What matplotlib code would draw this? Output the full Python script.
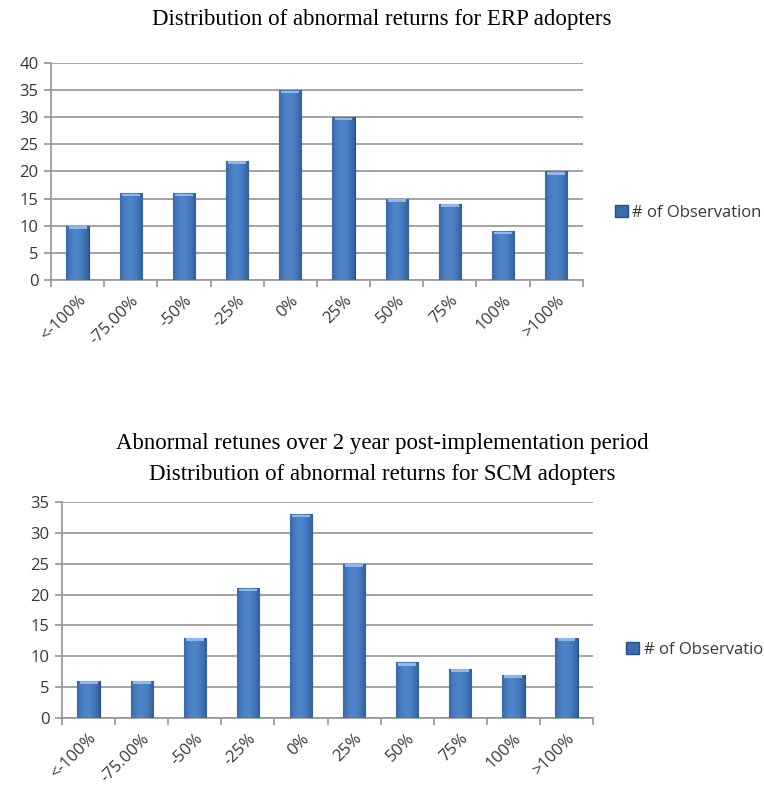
import numpy as np
import matplotlib
matplotlib.use("Agg")
import matplotlib.pyplot as plt
from matplotlib.patches import Patch

categories = ["<-100%", "-75.00%", "-50%", "-25%", "0%", "25%", "50%", "75%", "100%", ">100%"]
erp_counts = [10, 16, 16, 22, 35, 30, 15, 14, 9, 20]
scm_counts = [6, 6, 13, 21, 33, 25, 9, 8, 7, 13]

bar_color = "#3b6cae"
edge_color = "#264d84"
grid_color = "#9c9c9c"
text_color = "#383838"
label_font = "Open Sans"
title_font = "Liberation Serif"

fig = plt.figure(figsize=(7.64, 7.92), dpi=100)

# horizontal shading used inside every bar
shade = np.linspace(0, 1, 64)
shade = 1 - 0.55 * (2 * np.abs(shade - 0.45)) ** 1.6
grad = np.outer(np.ones(2), shade)
cmap = matplotlib.colors.LinearSegmentedColormap.from_list("bar", ["#1f4a86", "#4f86c9"])


def draw_panel(rect, values, ymax, legend_label, legend_xy):
    ax = fig.add_axes(rect)
    x = np.arange(len(categories))
    bars = ax.bar(x, values, width=0.42, color=bar_color, edgecolor=edge_color,
                  linewidth=0.8, zorder=3)
    for b in bars:
        x0, y0 = b.get_x(), b.get_y()
        w, h = b.get_width(), b.get_height()
        im = ax.imshow(grad, cmap=cmap, vmin=0, vmax=1, aspect="auto",
                       extent=(x0, x0 + w, y0, y0 + h), zorder=3.5)
        im.set_clip_path(b)
        # light cap at top of each bar
        ax.bar(b.get_x() + w / 2, ymax * 0.012, width=w * 0.8, bottom=h - ymax * 0.014,
               color="#8fb8e8", linewidth=0, zorder=4)
    ax.set_xlim(-0.5, len(categories) - 0.5)
    ax.set_ylim(0, ymax)
    ax.set_yticks(np.arange(0, ymax + 1, 5))
    ax.yaxis.grid(True, color=grid_color, linewidth=1.3, zorder=0)
    ax.set_axisbelow(True)
    ax.set_xticks(x)
    ax.set_xticklabels(categories, rotation=45, ha="right", rotation_mode="anchor",
                       fontsize=12, family=label_font, color=text_color)
    ax.set_xticks(np.arange(-0.5, len(categories)), minor=True)
    ax.tick_params(axis="x", which="major", length=0, pad=9)
    ax.tick_params(axis="x", which="minor", length=5, color=grid_color, width=1.3)
    ax.tick_params(axis="y", length=5, color=grid_color, width=1.3, pad=4)
    for lab in ax.get_yticklabels():
        lab.set_fontsize(12)
        lab.set_family(label_font)
        lab.set_color(text_color)
    for s in ["top", "right"]:
        ax.spines[s].set_visible(False)
    ax.spines["left"].set_color(grid_color)
    ax.spines["bottom"].set_color(grid_color)
    ax.spines["left"].set_linewidth(1.3)
    ax.spines["bottom"].set_linewidth(1.3)
    handle = Patch(facecolor=bar_color, edgecolor=edge_color)
    fig.legend([handle], [legend_label], loc="center left",
               bbox_to_anchor=legend_xy, frameon=False, handlelength=0.75,
               handleheight=0.75, handletextpad=0.3, borderpad=0, borderaxespad=0,
               labelcolor=text_color,
               prop={"family": label_font, "size": 12})
    return ax


draw_panel([0.0668, 0.6465, 0.696, 0.274], erp_counts, 40, "# of Observation",
           (615 / 764, 1 - 213 / 792))
draw_panel([0.0812, 0.0934, 0.695, 0.2727], scm_counts, 35, "# of Observatio",
           (626 / 764, 1 - 650 / 792))

fig.text(0.5, 1 - 20 / 792, "Distribution of abnormal returns for ERP adopters",
         ha="center", va="center", family=title_font, fontsize=16.5, color="black")
fig.text(0.5, 1 - 443 / 792, "Abnormal retunes over 2 year post-implementation period",
         ha="center", va="center", family=title_font, fontsize=16.5, color="black")
fig.text(0.5, 1 - 475 / 792, "Distribution of abnormal returns for SCM adopters",
         ha="center", va="center", family=title_font, fontsize=16.5, color="black")

fig.savefig("out.png", dpi=100)
